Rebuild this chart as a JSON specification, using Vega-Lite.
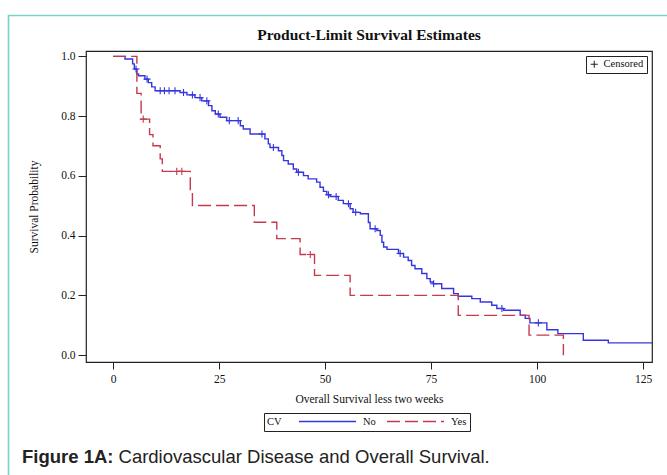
{
  "$schema": "https://vega.github.io/schema/vega-lite/v6.json",
  "width": 566,
  "height": 311,
  "autosize": {"type": "none"},
  "padding": {"left": 86, "top": 51, "right": 15, "bottom": 113},
  "background": "white",
  "title": {
    "text": "Product-Limit Survival Estimates",
    "font": "Liberation Serif",
    "fontSize": 15.5,
    "fontWeight": "bold",
    "color": "#111111",
    "anchor": "middle",
    "baseline": "bottom",
    "offset": -44
  },
  "config": {
    "view": {"stroke": "#222222", "strokeWidth": 1.2},
    "axis": {
      "labelFont": "Liberation Serif",
      "titleFont": "Liberation Serif",
      "labelFontSize": 11.5,
      "titleFontSize": 11.5,
      "titleFontWeight": "normal",
      "labelColor": "#111111",
      "titleColor": "#111111",
      "tickColor": "#222222",
      "grid": false,
      "domain": false
    }
  },
  "datasets": {
    "curves": [
      {"cv": "No", "time": 0, "survival": 1.0},
      {"cv": "No", "time": 2.8, "survival": 0.991},
      {"cv": "No", "time": 4.6, "survival": 0.975},
      {"cv": "No", "time": 5.0, "survival": 0.958},
      {"cv": "No", "time": 5.6, "survival": 0.941},
      {"cv": "No", "time": 6.0, "survival": 0.935},
      {"cv": "No", "time": 7.5, "survival": 0.924},
      {"cv": "No", "time": 8.3, "survival": 0.912},
      {"cv": "No", "time": 9.1, "survival": 0.898},
      {"cv": "No", "time": 9.9, "survival": 0.885},
      {"cv": "No", "time": 15.8, "survival": 0.879},
      {"cv": "No", "time": 17.4, "survival": 0.871},
      {"cv": "No", "time": 19.3, "survival": 0.862},
      {"cv": "No", "time": 20.9, "survival": 0.851},
      {"cv": "No", "time": 22.5, "survival": 0.835},
      {"cv": "No", "time": 23.3, "survival": 0.818},
      {"cv": "No", "time": 24.1, "survival": 0.807},
      {"cv": "No", "time": 25.2, "survival": 0.796},
      {"cv": "No", "time": 26.8, "survival": 0.785},
      {"cv": "No", "time": 30.0, "survival": 0.768},
      {"cv": "No", "time": 30.7, "survival": 0.757},
      {"cv": "No", "time": 32.3, "survival": 0.74},
      {"cv": "No", "time": 35.8, "survival": 0.724},
      {"cv": "No", "time": 36.6, "survival": 0.707},
      {"cv": "No", "time": 37.0, "survival": 0.695},
      {"cv": "No", "time": 39.0, "survival": 0.684},
      {"cv": "No", "time": 39.8, "survival": 0.668},
      {"cv": "No", "time": 40.2, "survival": 0.651},
      {"cv": "No", "time": 41.3, "survival": 0.64},
      {"cv": "No", "time": 42.5, "survival": 0.623},
      {"cv": "No", "time": 43.3, "survival": 0.612},
      {"cv": "No", "time": 44.9, "survival": 0.601},
      {"cv": "No", "time": 46.0, "survival": 0.59},
      {"cv": "No", "time": 48.0, "survival": 0.579},
      {"cv": "No", "time": 48.8, "survival": 0.562},
      {"cv": "No", "time": 49.6, "survival": 0.548},
      {"cv": "No", "time": 50.4, "survival": 0.537},
      {"cv": "No", "time": 51.2, "survival": 0.531},
      {"cv": "No", "time": 53.1, "survival": 0.518},
      {"cv": "No", "time": 54.3, "survival": 0.507},
      {"cv": "No", "time": 55.9, "survival": 0.49},
      {"cv": "No", "time": 56.6, "survival": 0.478},
      {"cv": "No", "time": 58.3, "survival": 0.473},
      {"cv": "No", "time": 60.2, "survival": 0.444},
      {"cv": "No", "time": 60.6, "survival": 0.423},
      {"cv": "No", "time": 62.2, "survival": 0.417},
      {"cv": "No", "time": 63.0, "survival": 0.401},
      {"cv": "No", "time": 63.4, "survival": 0.378},
      {"cv": "No", "time": 63.8, "survival": 0.362},
      {"cv": "No", "time": 64.6, "survival": 0.354},
      {"cv": "No", "time": 67.3, "survival": 0.34},
      {"cv": "No", "time": 68.5, "survival": 0.328},
      {"cv": "No", "time": 69.6, "survival": 0.317},
      {"cv": "No", "time": 70.4, "survival": 0.3},
      {"cv": "No", "time": 71.2, "survival": 0.289},
      {"cv": "No", "time": 72.8, "survival": 0.273},
      {"cv": "No", "time": 74.0, "survival": 0.256},
      {"cv": "No", "time": 74.8, "survival": 0.245},
      {"cv": "No", "time": 75.5, "survival": 0.239},
      {"cv": "No", "time": 77.5, "survival": 0.223},
      {"cv": "No", "time": 80.3, "survival": 0.206},
      {"cv": "No", "time": 81.4, "survival": 0.197},
      {"cv": "No", "time": 84.6, "survival": 0.189},
      {"cv": "No", "time": 86.6, "survival": 0.178},
      {"cv": "No", "time": 89.3, "survival": 0.167},
      {"cv": "No", "time": 90.5, "survival": 0.156},
      {"cv": "No", "time": 92.1, "survival": 0.15},
      {"cv": "No", "time": 96.0, "survival": 0.134},
      {"cv": "No", "time": 97.2, "survival": 0.123},
      {"cv": "No", "time": 98.3, "survival": 0.108},
      {"cv": "No", "time": 102.3, "survival": 0.085},
      {"cv": "No", "time": 104.9, "survival": 0.072},
      {"cv": "No", "time": 110.9, "survival": 0.05},
      {"cv": "No", "time": 116.8, "survival": 0.041},
      {"cv": "No", "time": 127.1, "survival": 0.041},
      {"cv": "Yes", "time": 0, "survival": 1.0},
      {"cv": "Yes", "time": 5.6, "survival": 0.876},
      {"cv": "Yes", "time": 6.6, "survival": 0.79},
      {"cv": "Yes", "time": 8.6, "survival": 0.738},
      {"cv": "Yes", "time": 9.4, "survival": 0.701},
      {"cv": "Yes", "time": 11.1, "survival": 0.657},
      {"cv": "Yes", "time": 11.6, "survival": 0.615},
      {"cv": "Yes", "time": 18.2, "survival": 0.554},
      {"cv": "Yes", "time": 18.7, "survival": 0.501},
      {"cv": "Yes", "time": 33.3, "survival": 0.445},
      {"cv": "Yes", "time": 38.6, "survival": 0.39},
      {"cv": "Yes", "time": 44.1, "survival": 0.337},
      {"cv": "Yes", "time": 47.5, "survival": 0.267},
      {"cv": "Yes", "time": 55.9, "survival": 0.2},
      {"cv": "Yes", "time": 81.4, "survival": 0.133},
      {"cv": "Yes", "time": 98.1, "survival": 0.067},
      {"cv": "Yes", "time": 106.2, "survival": 0.0}
    ],
    "censored": [
      {"cv": "No", "time": 5.4, "survival": 0.958, "status": "Censored"},
      {"cv": "No", "time": 8.0, "survival": 0.924, "status": "Censored"},
      {"cv": "No", "time": 11.1, "survival": 0.885, "status": "Censored"},
      {"cv": "No", "time": 12.1, "survival": 0.885, "status": "Censored"},
      {"cv": "No", "time": 13.2, "survival": 0.885, "status": "Censored"},
      {"cv": "No", "time": 14.6, "survival": 0.885, "status": "Censored"},
      {"cv": "No", "time": 16.6, "survival": 0.879, "status": "Censored"},
      {"cv": "No", "time": 18.7, "survival": 0.871, "status": "Censored"},
      {"cv": "No", "time": 20.5, "survival": 0.862, "status": "Censored"},
      {"cv": "No", "time": 22.1, "survival": 0.851, "status": "Censored"},
      {"cv": "No", "time": 24.8, "survival": 0.807, "status": "Censored"},
      {"cv": "No", "time": 27.4, "survival": 0.785, "status": "Censored"},
      {"cv": "No", "time": 29.5, "survival": 0.785, "status": "Censored"},
      {"cv": "No", "time": 35.1, "survival": 0.74, "status": "Censored"},
      {"cv": "No", "time": 37.8, "survival": 0.695, "status": "Censored"},
      {"cv": "No", "time": 43.7, "survival": 0.612, "status": "Censored"},
      {"cv": "No", "time": 50.8, "survival": 0.537, "status": "Censored"},
      {"cv": "No", "time": 52.6, "survival": 0.531, "status": "Censored"},
      {"cv": "No", "time": 55.5, "survival": 0.507, "status": "Censored"},
      {"cv": "No", "time": 57.2, "survival": 0.478, "status": "Censored"},
      {"cv": "No", "time": 61.8, "survival": 0.423, "status": "Censored"},
      {"cv": "No", "time": 67.7, "survival": 0.34, "status": "Censored"},
      {"cv": "No", "time": 75.6, "survival": 0.239, "status": "Censored"},
      {"cv": "No", "time": 91.7, "survival": 0.156, "status": "Censored"},
      {"cv": "No", "time": 100.3, "survival": 0.108, "status": "Censored"},
      {"cv": "Yes", "time": 7.1, "survival": 0.79, "status": "Censored"},
      {"cv": "Yes", "time": 15.0, "survival": 0.615, "status": "Censored"},
      {"cv": "Yes", "time": 16.2, "survival": 0.615, "status": "Censored"},
      {"cv": "Yes", "time": 46.5, "survival": 0.337, "status": "Censored"}
    ]
  },
  "layer": [
    {
      "data": {"name": "curves"},
      "mark": {"type": "line", "interpolate": "step-after", "strokeWidth": 1.4},
      "encoding": {
        "x": {
          "field": "time",
          "type": "quantitative",
          "scale": {"domain": [-6.4, 127.1], "nice": false, "zero": false},
          "axis": {
            "values": [0, 25, 50, 75, 100, 125],
            "title": "Overall Survival less two weeks",
            "tickSize": 7,
            "labelPadding": 4,
            "titlePadding": 9
          }
        },
        "y": {
          "field": "survival",
          "type": "quantitative",
          "scale": {"domain": [-0.023, 1.018], "nice": false, "zero": false},
          "axis": {
            "values": [0, 0.2, 0.4, 0.6, 0.8, 1],
            "format": ".1f",
            "title": "Survival Probability",
            "tickSize": 8,
            "labelPadding": 3,
            "titlePadding": 21
          }
        },
        "color": {
          "field": "cv",
          "type": "nominal",
          "scale": {"domain": ["No", "Yes"], "range": ["#3535e0", "#c53a4f"]},
          "legend": {
            "title": "CV",
            "orient": "none",
            "legendX": 178,
            "legendY": 362,
            "direction": "horizontal",
            "titleOrient": "left",
            "strokeColor": "#222222",
            "padding": 3,
            "symbolType": "stroke",
            "symbolSize": 3249,
            "symbolStrokeWidth": 1.4,
            "clipHeight": 11,
            "labelFont": "Liberation Serif",
            "labelFontSize": 10.5,
            "labelColor": "#111111",
            "labelOffset": 6,
            "columnPadding": 10,
            "titleFont": "Liberation Serif",
            "titleFontSize": 10.5,
            "titleFontWeight": "normal",
            "titleColor": "#111111",
            "titlePadding": 16
          }
        },
        "strokeDash": {
          "field": "cv",
          "type": "nominal",
          "scale": {"domain": ["No", "Yes"], "range": [[1, 0], [13, 5]]},
          "legend": {
            "title": "CV",
            "orient": "none",
            "legendX": 178,
            "legendY": 362,
            "direction": "horizontal",
            "titleOrient": "left",
            "strokeColor": "#222222",
            "padding": 3,
            "symbolType": "stroke",
            "symbolSize": 3249,
            "symbolStrokeWidth": 1.4,
            "clipHeight": 11,
            "labelFont": "Liberation Serif",
            "labelFontSize": 10.5,
            "labelColor": "#111111",
            "labelOffset": 6,
            "columnPadding": 10,
            "titleFont": "Liberation Serif",
            "titleFontSize": 10.5,
            "titleFontWeight": "normal",
            "titleColor": "#111111",
            "titlePadding": 16
          }
        }
      }
    },
    {
      "data": {"name": "censored"},
      "mark": {"type": "point", "filled": false, "size": 50, "strokeWidth": 1.1, "opacity": 1},
      "encoding": {
        "x": {"field": "time", "type": "quantitative", "title": "Overall Survival less two weeks"},
        "y": {"field": "survival", "type": "quantitative", "title": "Survival Probability"},
        "stroke": {
          "field": "cv",
          "type": "nominal",
          "scale": {"domain": ["No", "Yes"], "range": ["#3535e0", "#c53a4f"]},
          "legend": null
        },
        "shape": {
          "field": "status",
          "type": "nominal",
          "scale": {"domain": ["Censored"], "range": ["M-1,0H1M0,-1V1"]},
          "legend": {
            "title": null,
            "orient": "top-right",
            "offset": 5,
            "strokeColor": "#222222",
            "padding": 3,
            "symbolStrokeColor": "#222222",
            "symbolFillColor": "transparent",
            "symbolSize": 50,
            "symbolStrokeWidth": 1,
            "labelFont": "Liberation Serif",
            "labelFontSize": 10.5,
            "labelColor": "#111111",
            "labelOffset": 4
          }
        }
      }
    },
    {
      "data": {"values": [{}]},
      "mark": {"type": "rect", "fillOpacity": 0, "stroke": "#78d2c6", "strokeWidth": 1.6, "clip": false},
      "encoding": {
        "x": {"datum": -24.68, "type": "quantitative", "title": "Overall Survival less two weeks"},
        "x2": {"datum": 140},
        "y": {"datum": 1.137, "type": "quantitative", "title": "Survival Probability"},
        "y2": {"datum": -0.6}
      }
    },
    {
      "data": {"values": [{}]},
      "mark": {"type": "text", "text": "Figure 1A:", "font": "Liberation Sans", "fontSize": 18.5, "fontWeight": "bold", "align": "left", "baseline": "alphabetic", "color": "#222222", "clip": false},
      "encoding": {
        "x": {"datum": -21.5, "type": "quantitative", "title": "Overall Survival less two weeks"},
        "y": {"datum": -0.361, "type": "quantitative", "title": "Survival Probability"}
      }
    },
    {
      "data": {"values": [{}]},
      "mark": {"type": "text", "text": "Cardiovascular Disease and Overall Survival.", "font": "Liberation Sans", "fontSize": 18.5, "fontWeight": "normal", "align": "left", "baseline": "alphabetic", "color": "#222222", "clip": false},
      "encoding": {
        "x": {"datum": 1.27, "type": "quantitative", "title": "Overall Survival less two weeks"},
        "y": {"datum": -0.361, "type": "quantitative", "title": "Survival Probability"}
      }
    }
  ]
}
